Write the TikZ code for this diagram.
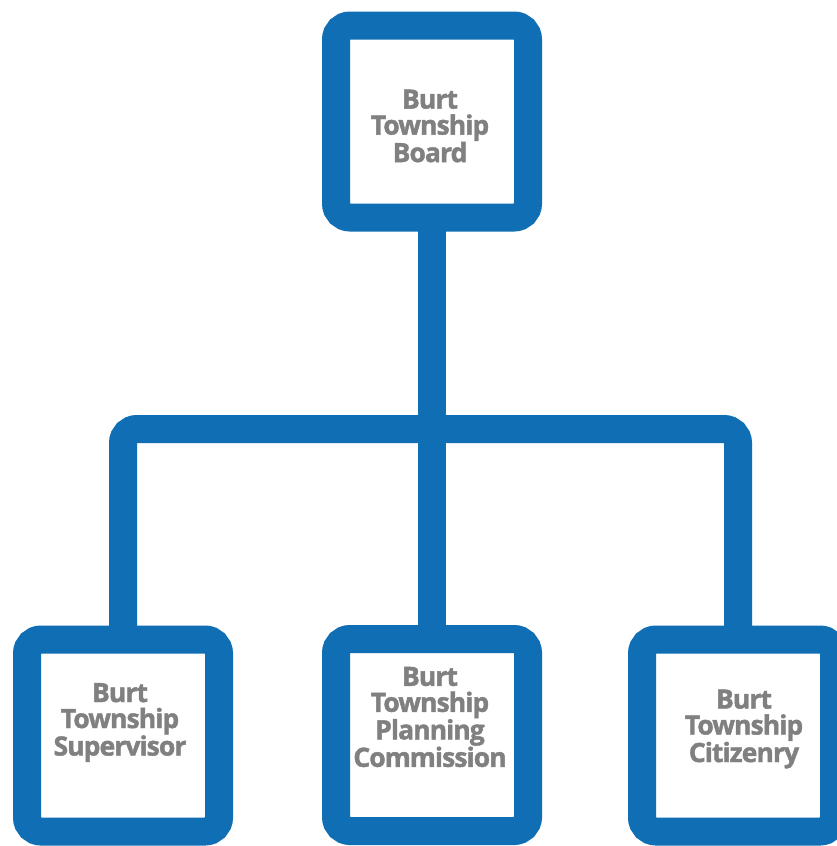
\documentclass[tikz,border=0pt]{standalone}
\usepackage{fontspec}
\newfontfamily\labfont{Open Sans}[BoldFeatures={FakeBold=1.6}, LetterSpace=-3.5]
\definecolor{orgblue}{HTML}{0F6EB4}
\definecolor{labgray}{HTML}{808080}
\begin{document}
\begin{tikzpicture}[x=1pt,y=-1pt,
  orgbox/.style={draw=orgblue, fill=white, line width=28pt, rounded corners=14pt,
    minimum width=192pt, minimum height=192pt, inner sep=0pt, outer sep=0pt},
  conn/.style={draw=orgblue, line width=28pt},
  lab/.style={text=labgray, align=center, inner sep=0pt,
    font=\labfont\bfseries\fontsize{26.5}{26}\selectfont}]
\useasboundingbox (0,0) rectangle (837,846);
\clip (0,0) rectangle (837,846);
\fill[white] (0,0) rectangle (837,846);
% connectors
\coordinate (bar) at (432,429);
\draw[conn] (432,200) -- (432,660);
\draw[conn, rounded corners=14pt] (123,660) |- (bar) -| (738,660);
% boxes
\node[orgbox] (top) at (432,121.5) {};
\node[orgbox] (sup) at (123,735.5) {};
\node[orgbox] (mid) at (432,735) {};
\node[orgbox] (cit) at (738,735.5) {};
% labels
\node[lab] (topl) at (430,126) {Burt\\Township\\Board};
\node[lab] (supl) at (120,722.5) {Burt\\Township\\Supervisor};
\node[lab] (midl) at (430,717) {Burt\\Township\\Planning\\Commission};
\node[lab] (citl) at (744,729) {Burt\\Township\\Citizenry};
\end{tikzpicture}
\end{document}
